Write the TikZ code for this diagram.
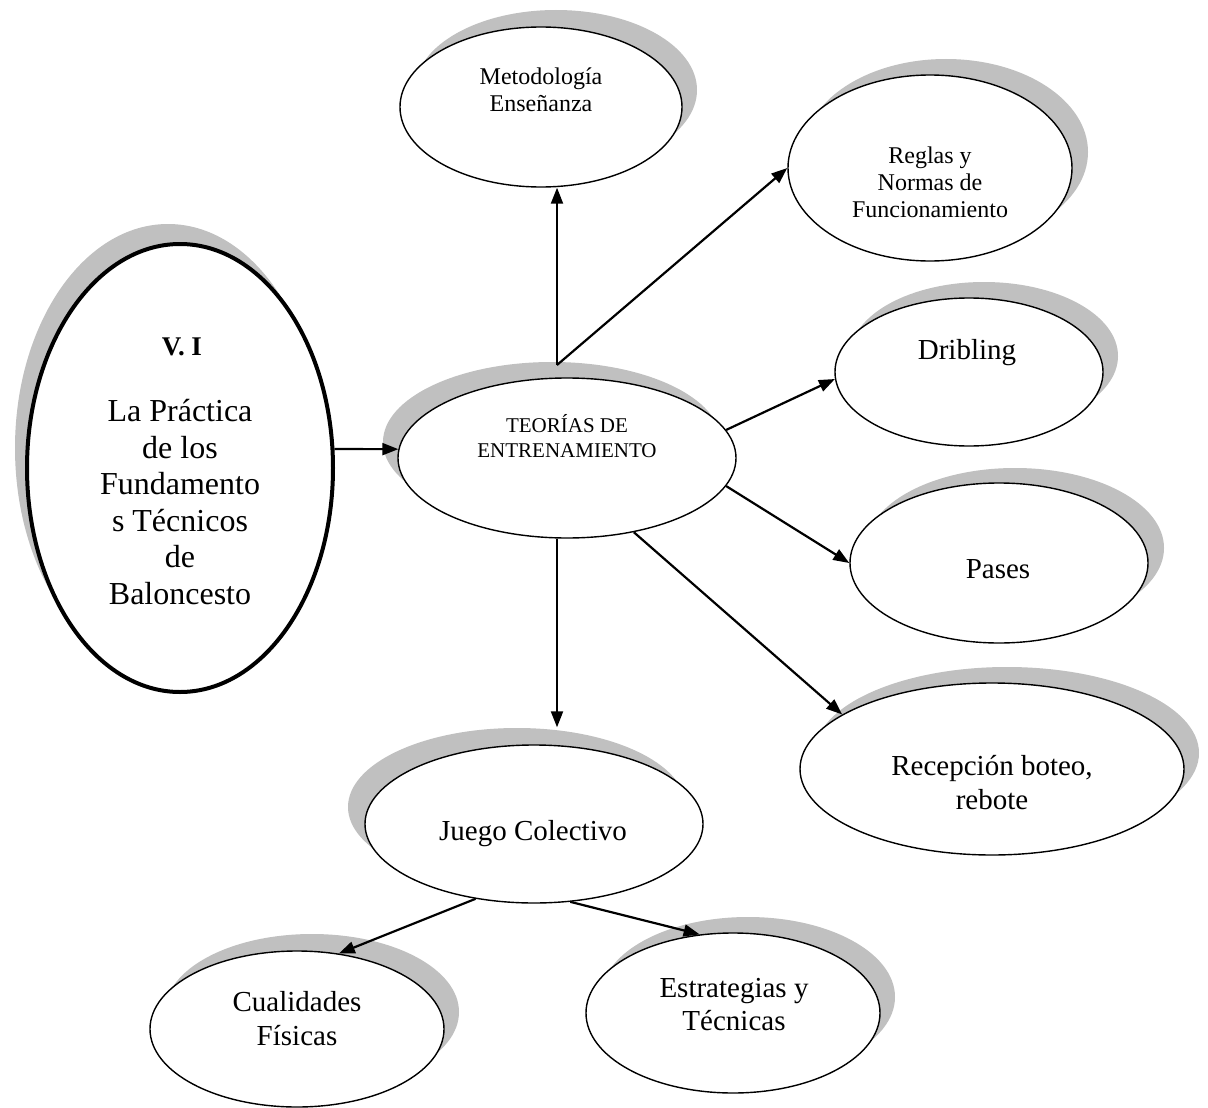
\documentclass[tikz,border=0pt]{standalone}
\usepackage{fontspec}
\setmainfont{Liberation Serif}
\usetikzlibrary{shapes.geometric,arrows.meta,shadows}
\definecolor{shade}{RGB}{192,192,192}
\newcommand\fsz[2]{\fontsize{#1}{#2}\selectfont}
\tikzset{
  bub/.style={ellipse,draw=black,line width=1.4pt,fill=white,inner sep=0pt},
  sh/.style 2 args={drop shadow={shadow xshift=#1pt,shadow yshift=#2pt,fill=shade,opacity=1}},
  lbl/.style={align=center,inner sep=0pt,anchor=base},
  arr/.style={line width=2.2pt,-{Triangle[length=16pt,width=12pt]}},
}
\begin{document}
\begin{tikzpicture}[x=1pt,y=-1pt]
\useasboundingbox (0,0) rectangle (1208,1108);
\fill[white] (0,0) rectangle (1208,1108);
% ellipses
\node[bub,sh={15}{17},minimum width=282pt,minimum height=160pt] (met) at (541,107) {};
\node[bub,sh={16}{16},minimum width=284pt,minimum height=186pt] (reg) at (930,168) {};
\node[bub,sh={15}{16},minimum width=268pt,minimum height=148pt] (dri) at (969,372) {};
\node[bub,sh={16}{15},minimum width=298pt,minimum height=160pt] (pas) at (999,563) {};
\node[bub,sh={15}{16},minimum width=384pt,minimum height=172pt] (rec) at (992,769) {};
\node[bub,sh={-15}{16},minimum width=338pt,minimum height=160pt] (teo) at (567,458) {};
\node[bub,sh={-12}{20},line width=4pt,minimum width=306pt,minimum height=448pt] (vi) at (180,468) {};
\node[bub,sh={-17}{17},minimum width=338pt,minimum height=158pt] (jue) at (534,824) {};
\node[bub,sh={15}{16},minimum width=294pt,minimum height=160pt] (est) at (733,1013) {};
\node[bub,sh={15}{17},minimum width=294pt,minimum height=156pt] (cua) at (297,1029) {};
% texts (anchor base = baseline of the last line)
\node[lbl,font=\fsz{24}{27}] (metT) at (541,111) {Metodología\\Enseñanza};
\node[lbl,font=\fsz{24}{27}] (regT) at (930,217) {Reglas y\\Normas de\\Funcionamiento};
\node[lbl,font=\fsz{29}{33}] (driT) at (967,359) {Dribling};
\node[lbl,font=\fsz{21}{25}] (teoT) at (567,457) {TEORÍAS DE\\ENTRENAMIENTO};
\node[lbl,font=\fsz{27}{30}\bfseries] (viH) at (182,355) {V. I};
\node[lbl,font=\fsz{32}{36.5}] (viT) at (180,604) {La Práctica\\de los\\Fundamento\\s Técnicos\\de\\Baloncesto};
\node[lbl,font=\fsz{29}{33}] (pasT) at (998,578) {Pases};
\node[lbl,font=\fsz{29}{34}] (recT) at (992,809) {Recepción boteo,\\rebote};
\node[lbl,font=\fsz{29}{33}] (jueT) at (533,840) {Juego Colectivo};
\node[lbl,font=\fsz{29}{33}] (estT) at (734,1030) {Estrategias y\\Técnicas};
\node[lbl,font=\fsz{29}{34}] (cuaT) at (297,1045) {Cualidades\\Físicas};
% connectors
\coordinate (hub) at (557,365);
\draw[arr] (vi.7) -- (teo.177);
\draw[arr] (hub) -- (hub |- met.south);
\draw[arr] (hub) -- (reg.west);
\draw[arr] (teo.10) -- (dri.183);
\draw[arr] (teo.350) -- (pas.west);
\draw[arr] (teo.312) -- (rec.160);
\draw[arr] (hub |- teo.south) -- ([yshift=17pt]hub |- jue.north);
\draw[arr] (jue.232) -- (cua.61);
\draw[arr] (jue.295) -- (est.113);
\end{tikzpicture}
\end{document}
